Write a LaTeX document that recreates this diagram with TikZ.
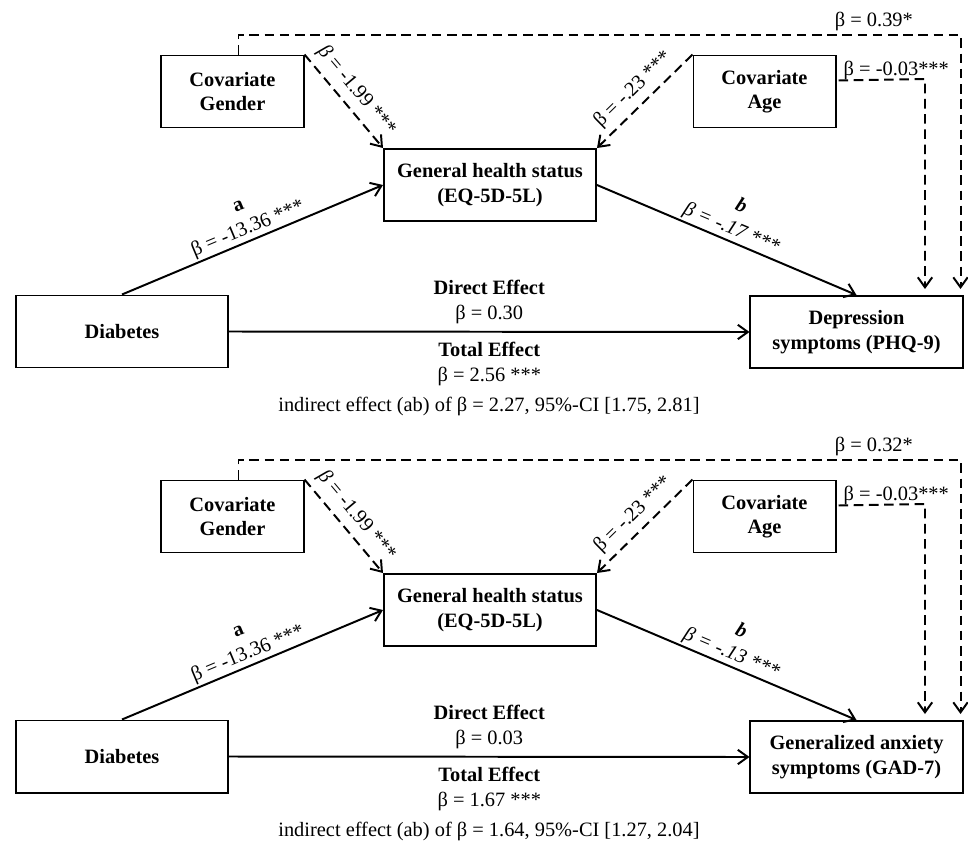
\documentclass[tikz,border=0pt]{standalone}
\usepackage{fontspec}
\setmainfont{Liberation Serif}
\usetikzlibrary{arrows.meta,calc}

\tikzset{
  smallbox/.style={draw, line width=1.4pt, align=center, font=\fontsize{14.5}{17.5}\selectfont\bfseries,
    minimum width=3.55cm, minimum height=1.8cm, inner sep=0pt},
  bigbox/.style={smallbox, minimum width=5.3cm},
  lab/.style={align=center, inner sep=1pt},
  efflab/.style={lab, inner sep=5pt},
  covlab/.style={lab, sloped, above, inner sep=4.5pt},
  effect/.style={line width=1.4pt, -{Straight Barb[length=2.5mm,width=3.6mm]}},
  covar/.style={effect, dash pattern=on 2.4mm off 1.4mm}
}

\begin{document}
\begin{tikzpicture}[x=0.025cm, y=-0.025cm, font=\fontsize{14.5}{17.5}\selectfont]
\useasboundingbox (0,0) rectangle (968,848);

% depression model
\node[smallbox] (gender1) at (232.5,91.5) {Covariate\\Gender};
\node[smallbox] (age1) at (764.5,91.5) {Covariate\\Age};
\node[bigbox] (ghs1) at (490,185) {General health status\\(EQ-5D-5L)};
\node[bigbox] (diab1) at (122,331.5) {Diabetes};
\node[bigbox] (dep1) at (856.5,332) {Depression\\symptoms (PHQ-9)};

\draw[effect] (diab1.north) -- node[lab, sloped, above] {\textbf{a}\\β = -13.36 ***} (ghs1.west);
\draw[effect] (ghs1.east) -- node[lab, sloped, above] {\textbf{\textit{b}}\\\textit{β = -.17 ***}} (dep1.north);
\draw[effect] (diab1.east) -- node[efflab, above] {\textbf{Direct Effect}\\β = 0.30}
  node[efflab, below, inner sep=7pt] {\textbf{Total Effect}\\β = 2.56 ***} (dep1.west);
\draw[covar] (gender1.north east) -- node[covlab] {\textit{β} = -1.99 ***} (ghs1.north west);
\draw[covar] (age1.north west) -- node[covlab] {β = -.23 ***} (ghs1.north east);
\draw[covar] ($(gender1.north)+(6,0)$) |- node[pos=0.94, above, inner sep=2pt] {β = 0.39*}
  ($(dep1.north east)+(-3,-260)$) -- ($(dep1.north east)+(-3,-6)$);
\draw[covar] ($(age1.east)+(2,-11)$) -- node[pos=0, anchor=south west, inner xsep=3pt, inner ysep=0pt] {β = -0.03***}
  ($(dep1.north)+(68.5,-216)$) -- ($(dep1.north)+(68.5,-6)$);
\node (ind1) at (489,406) {indirect effect (ab) of β = 2.27, 95\%-CI [1.75, 2.81]};

% anxiety model
\begin{scope}[shift={(0,425)}]
\node[smallbox] (gender2) at (232.5,91.5) {Covariate\\Gender};
\node[smallbox] (age2) at (764.5,91.5) {Covariate\\Age};
\node[bigbox] (ghs2) at (490,185) {General health status\\(EQ-5D-5L)};
\node[bigbox] (diab2) at (122,331.5) {Diabetes};
\node[bigbox] (anx2) at (856.5,332) {Generalized anxiety\\symptoms (GAD-7)};

\draw[effect] (diab2.north) -- node[lab, sloped, above] {\textbf{a}\\β = -13.36 ***} (ghs2.west);
\draw[effect] (ghs2.east) -- node[lab, sloped, above] {\textbf{\textit{b}}\\\textit{β = -.13 ***}} (anx2.north);
\draw[effect] (diab2.east) -- node[efflab, above] {\textbf{Direct Effect}\\β = 0.03}
  node[efflab, below, inner sep=7pt] {\textbf{Total Effect}\\β = 1.67 ***} (anx2.west);
\draw[covar] (gender2.north east) -- node[covlab] {\textit{β} = -1.99 ***} (ghs2.north west);
\draw[covar] (age2.north west) -- node[covlab] {β = -.23 ***} (ghs2.north east);
\draw[covar] ($(gender2.north)+(6,0)$) |- node[pos=0.94, above, inner sep=2pt] {β = 0.32*}
  ($(anx2.north east)+(-3,-260)$) -- ($(anx2.north east)+(-3,-6)$);
\draw[covar] ($(age2.east)+(2,-11)$) -- node[pos=0, anchor=south west, inner xsep=3pt, inner ysep=0pt] {β = -0.03***}
  ($(anx2.north)+(68.5,-216)$) -- ($(anx2.north)+(68.5,-6)$);
\node (ind2) at (489,406) {indirect effect (ab) of β = 1.64, 95\%-CI [1.27, 2.04]};
\end{scope}
\end{tikzpicture}
\end{document}
